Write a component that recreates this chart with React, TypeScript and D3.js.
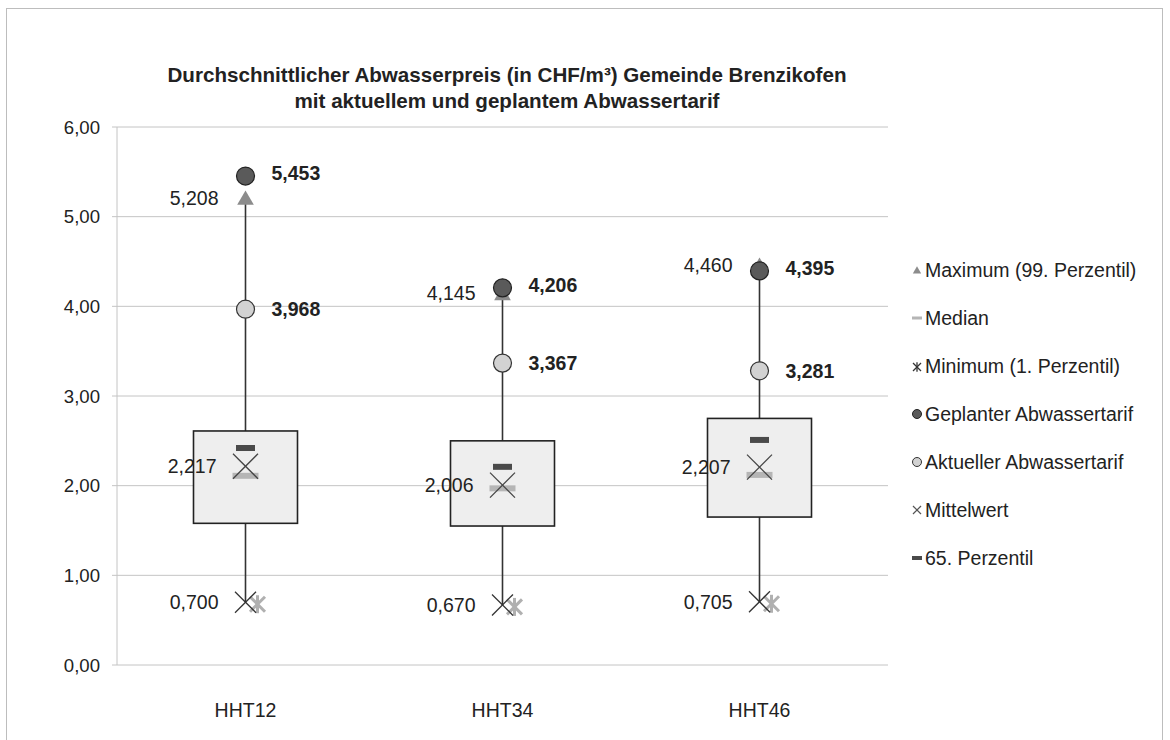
import React from "react";
import * as d3 from "d3";

const categories = ["HHT12", "HHT34", "HHT46"];
const q1 = [1.58, 1.55, 1.65];
const q3 = [2.61, 2.5, 2.75];
const median = [2.11, 1.97, 2.12];
const p65 = [2.42, 2.21, 2.51];
const mean = [2.217, 2.006, 2.207];
const maxVal = [5.208, 4.145, 4.46];
const minVal = [0.7, 0.67, 0.705];
const planned = [5.453, 4.206, 4.395];
const current = [3.968, 3.367, 3.281];
const yTicks = [0, 1, 2, 3, 4, 5, 6];
const legendItems = [
  "Maximum (99. Perzentil)",
  "Median",
  "Minimum (1. Perzentil)",
  "Geplanter Abwassertarif",
  "Aktueller Abwassertarif",
  "Mittelwert",
  "65. Perzentil",
];

const locale = d3.formatLocale({
  decimal: ",",
  thousands: ".",
  grouping: [3],
  currency: ["", " CHF"],
});
const f3 = locale.format(".3f");
const f2 = locale.format(".2f");

const FONT = "'Liberation Sans', Arial, sans-serif";
const FS = 19.5;

function Asterisk({ x, y, s, color, w }: any) {
  return (
    <g stroke={color} strokeWidth={w}>
      <line x1={x - s} y1={y - s} x2={x + s} y2={y + s} />
      <line x1={x - s} y1={y + s} x2={x + s} y2={y - s} />
      <line x1={x} y1={y - s * 1.2} x2={x} y2={y + s * 1.2} />
    </g>
  );
}

function Cross({ x, y, s, color, w }: any) {
  return (
    <g stroke={color} strokeWidth={w}>
      <line x1={x - s} y1={y - s} x2={x + s} y2={y + s} />
      <line x1={x - s} y1={y + s} x2={x + s} y2={y - s} />
    </g>
  );
}

export default function App() {
  const width = 1170;
  const height = 740;
  const plot = { left: 117, right: 888, top: 127, bottom: 665 };

  const x = d3
    .scaleBand()
    .domain(categories)
    .range([plot.left, plot.right]);
  const y = d3.scaleLinear().domain([0, 6]).range([plot.bottom, plot.top]);
  const tri = d3.symbol().type(d3.symbolTriangle).size(120)();
  const triSmall = d3.symbol().type(d3.symbolTriangle).size(30)();

  const boxW = 104;

  return (
    <svg
      width={width}
      height={height}
      style={{ position: "absolute", left: 0, top: 0, fontFamily: FONT }}
    >
      <rect x={0} y={0} width={width} height={height} fill="#fff" />
      <rect
        x={6.5}
        y={8.5}
        width={1156}
        height={780}
        fill="none"
        stroke="#bdbdbd"
        strokeWidth={1}
      />

      <text
        x={507}
        y={82}
        textAnchor="middle"
        fontSize={20.6}
        fontWeight="bold"
        fill="#222"
      >
        Durchschnittlicher Abwasserpreis (in CHF/m³) Gemeinde Brenzikofen
      </text>
      <text
        x={507}
        y={108}
        textAnchor="middle"
        fontSize={20.6}
        fontWeight="bold"
        fill="#222"
      >
        mit aktuellem und geplantem Abwassertarif
      </text>

      {/* grid + y axis */}
      {yTicks.map((t) => (
        <g key={t}>
          <line
            x1={plot.left - 5}
            x2={plot.right}
            y1={y(t)}
            y2={y(t)}
            stroke="#c4c4c4"
            strokeWidth={1}
          />
          <text
            x={plot.left - 17}
            y={y(t)}
            dy="0.35em"
            textAnchor="end"
            fontSize={18.6}
            fill="#222"
          >
            {f2(t)}
          </text>
        </g>
      ))}
      <line
        x1={plot.left}
        x2={plot.left}
        y1={plot.top}
        y2={plot.bottom}
        stroke="#c4c4c4"
      />

      {categories.map((c, i) => {
        const cx = (x(c) as number) + x.bandwidth() / 2;
        return (
          <g key={c}>
            <text
              x={cx}
              y={717}
              textAnchor="middle"
              fontSize={FS}
              fill="#222"
            >
              {c}
            </text>
            {/* whisker */}
            <line
              x1={cx}
              x2={cx}
              y1={y(minVal[i])}
              y2={y(maxVal[i])}
              stroke="#333"
              strokeWidth={1.6}
            />
            {/* box */}
            <rect
              x={cx - boxW / 2}
              y={y(q3[i])}
              width={boxW}
              height={y(q1[i]) - y(q3[i])}
              fill="#eeeeee"
              stroke="#222"
              strokeWidth={1.6}
            />
            {/* median */}
            <rect
              x={cx - 13}
              y={y(median[i]) - 3}
              width={26}
              height={6}
              fill="#b5b5b5"
            />
            {/* 65th percentile */}
            <rect
              x={cx - 9.5}
              y={y(p65[i]) - 3}
              width={19}
              height={6}
              fill="#4a4a4a"
            />
            {/* mean */}
            <Cross x={cx} y={y(mean[i])} s={12.5} color="#444" w={1.3} />
            <text
              x={cx - 29}
              y={y(mean[i])}
              dy="0.35em"
              textAnchor="end"
              fontSize={FS}
              fill="#222"
            >
              {f3(mean[i])}
            </text>
            {/* minimum */}
            <Asterisk
              x={cx + 12}
              y={y(minVal[i]) + 2}
              s={7.5}
              color="#b0b0b0"
              w={3}
            />
            <Cross x={cx} y={y(minVal[i])} s={10.5} color="#333" w={1.3} />
            <text
              x={cx - 27}
              y={y(minVal[i])}
              dy="0.35em"
              textAnchor="end"
              fontSize={FS}
              fill="#222"
            >
              {f3(minVal[i])}
            </text>
            {/* maximum */}
            <path
              d={tri as string}
              transform={`translate(${cx},${y(maxVal[i]) + 2})`}
              fill="#8c8c8c"
            />
            <text
              x={cx - 27}
              y={y(maxVal[i])}
              dy="0.35em"
              textAnchor="end"
              fontSize={FS}
              fill="#222"
            >
              {f3(maxVal[i])}
            </text>
            {/* current tariff */}
            <circle
              cx={cx}
              cy={y(current[i])}
              r={9}
              fill="#d2d2d2"
              stroke="#333"
              strokeWidth={1.2}
            />
            <text
              x={cx + 26}
              y={y(current[i])}
              dy="0.35em"
              fontSize={FS}
              fontWeight="bold"
              fill="#222"
            >
              {f3(current[i])}
            </text>
            {/* planned tariff */}
            <circle
              cx={cx}
              cy={y(planned[i])}
              r={9}
              fill="#5a5a5a"
              stroke="#222"
              strokeWidth={1.2}
            />
            <text
              x={cx + 26}
              y={y(planned[i]) - 3}
              dy="0.35em"
              fontSize={FS}
              fontWeight="bold"
              fill="#222"
            >
              {f3(planned[i])}
            </text>
          </g>
        );
      })}

      {/* legend */}
      {legendItems.map((label, i) => {
        const ly = 270 + i * 48;
        const mx = 917;
        let marker: any = null;
        if (i === 0)
          marker = (
            <path
              d={triSmall as string}
              transform={`translate(${mx},${ly + 1})`}
              fill="#8c8c8c"
            />
          );
        else if (i === 1)
          marker = (
            <rect x={mx - 5} y={ly - 1.5} width={10} height={3} fill="#b5b5b5" />
          );
        else if (i === 2)
          marker = <Asterisk x={mx} y={ly + 1} s={4} color="#333" w={1.3} />;
        else if (i === 3)
          marker = (
            <circle cx={mx} cy={ly} r={4.5} fill="#5a5a5a" stroke="#222" />
          );
        else if (i === 4)
          marker = (
            <circle cx={mx} cy={ly} r={4.5} fill="#d2d2d2" stroke="#333" />
          );
        else if (i === 5)
          marker = <Cross x={mx} y={ly} s={4} color="#555" w={1.2} />;
        else
          marker = (
            <rect x={mx - 5} y={ly - 2} width={10} height={4} fill="#4a4a4a" />
          );
        return (
          <g key={label}>
            {marker}
            <text
              x={mx + 8}
              y={ly}
              dy="0.35em"
              fontSize={FS}
              fill="#222"
            >
              {label}
            </text>
          </g>
        );
      })}
    </svg>
  );
}
